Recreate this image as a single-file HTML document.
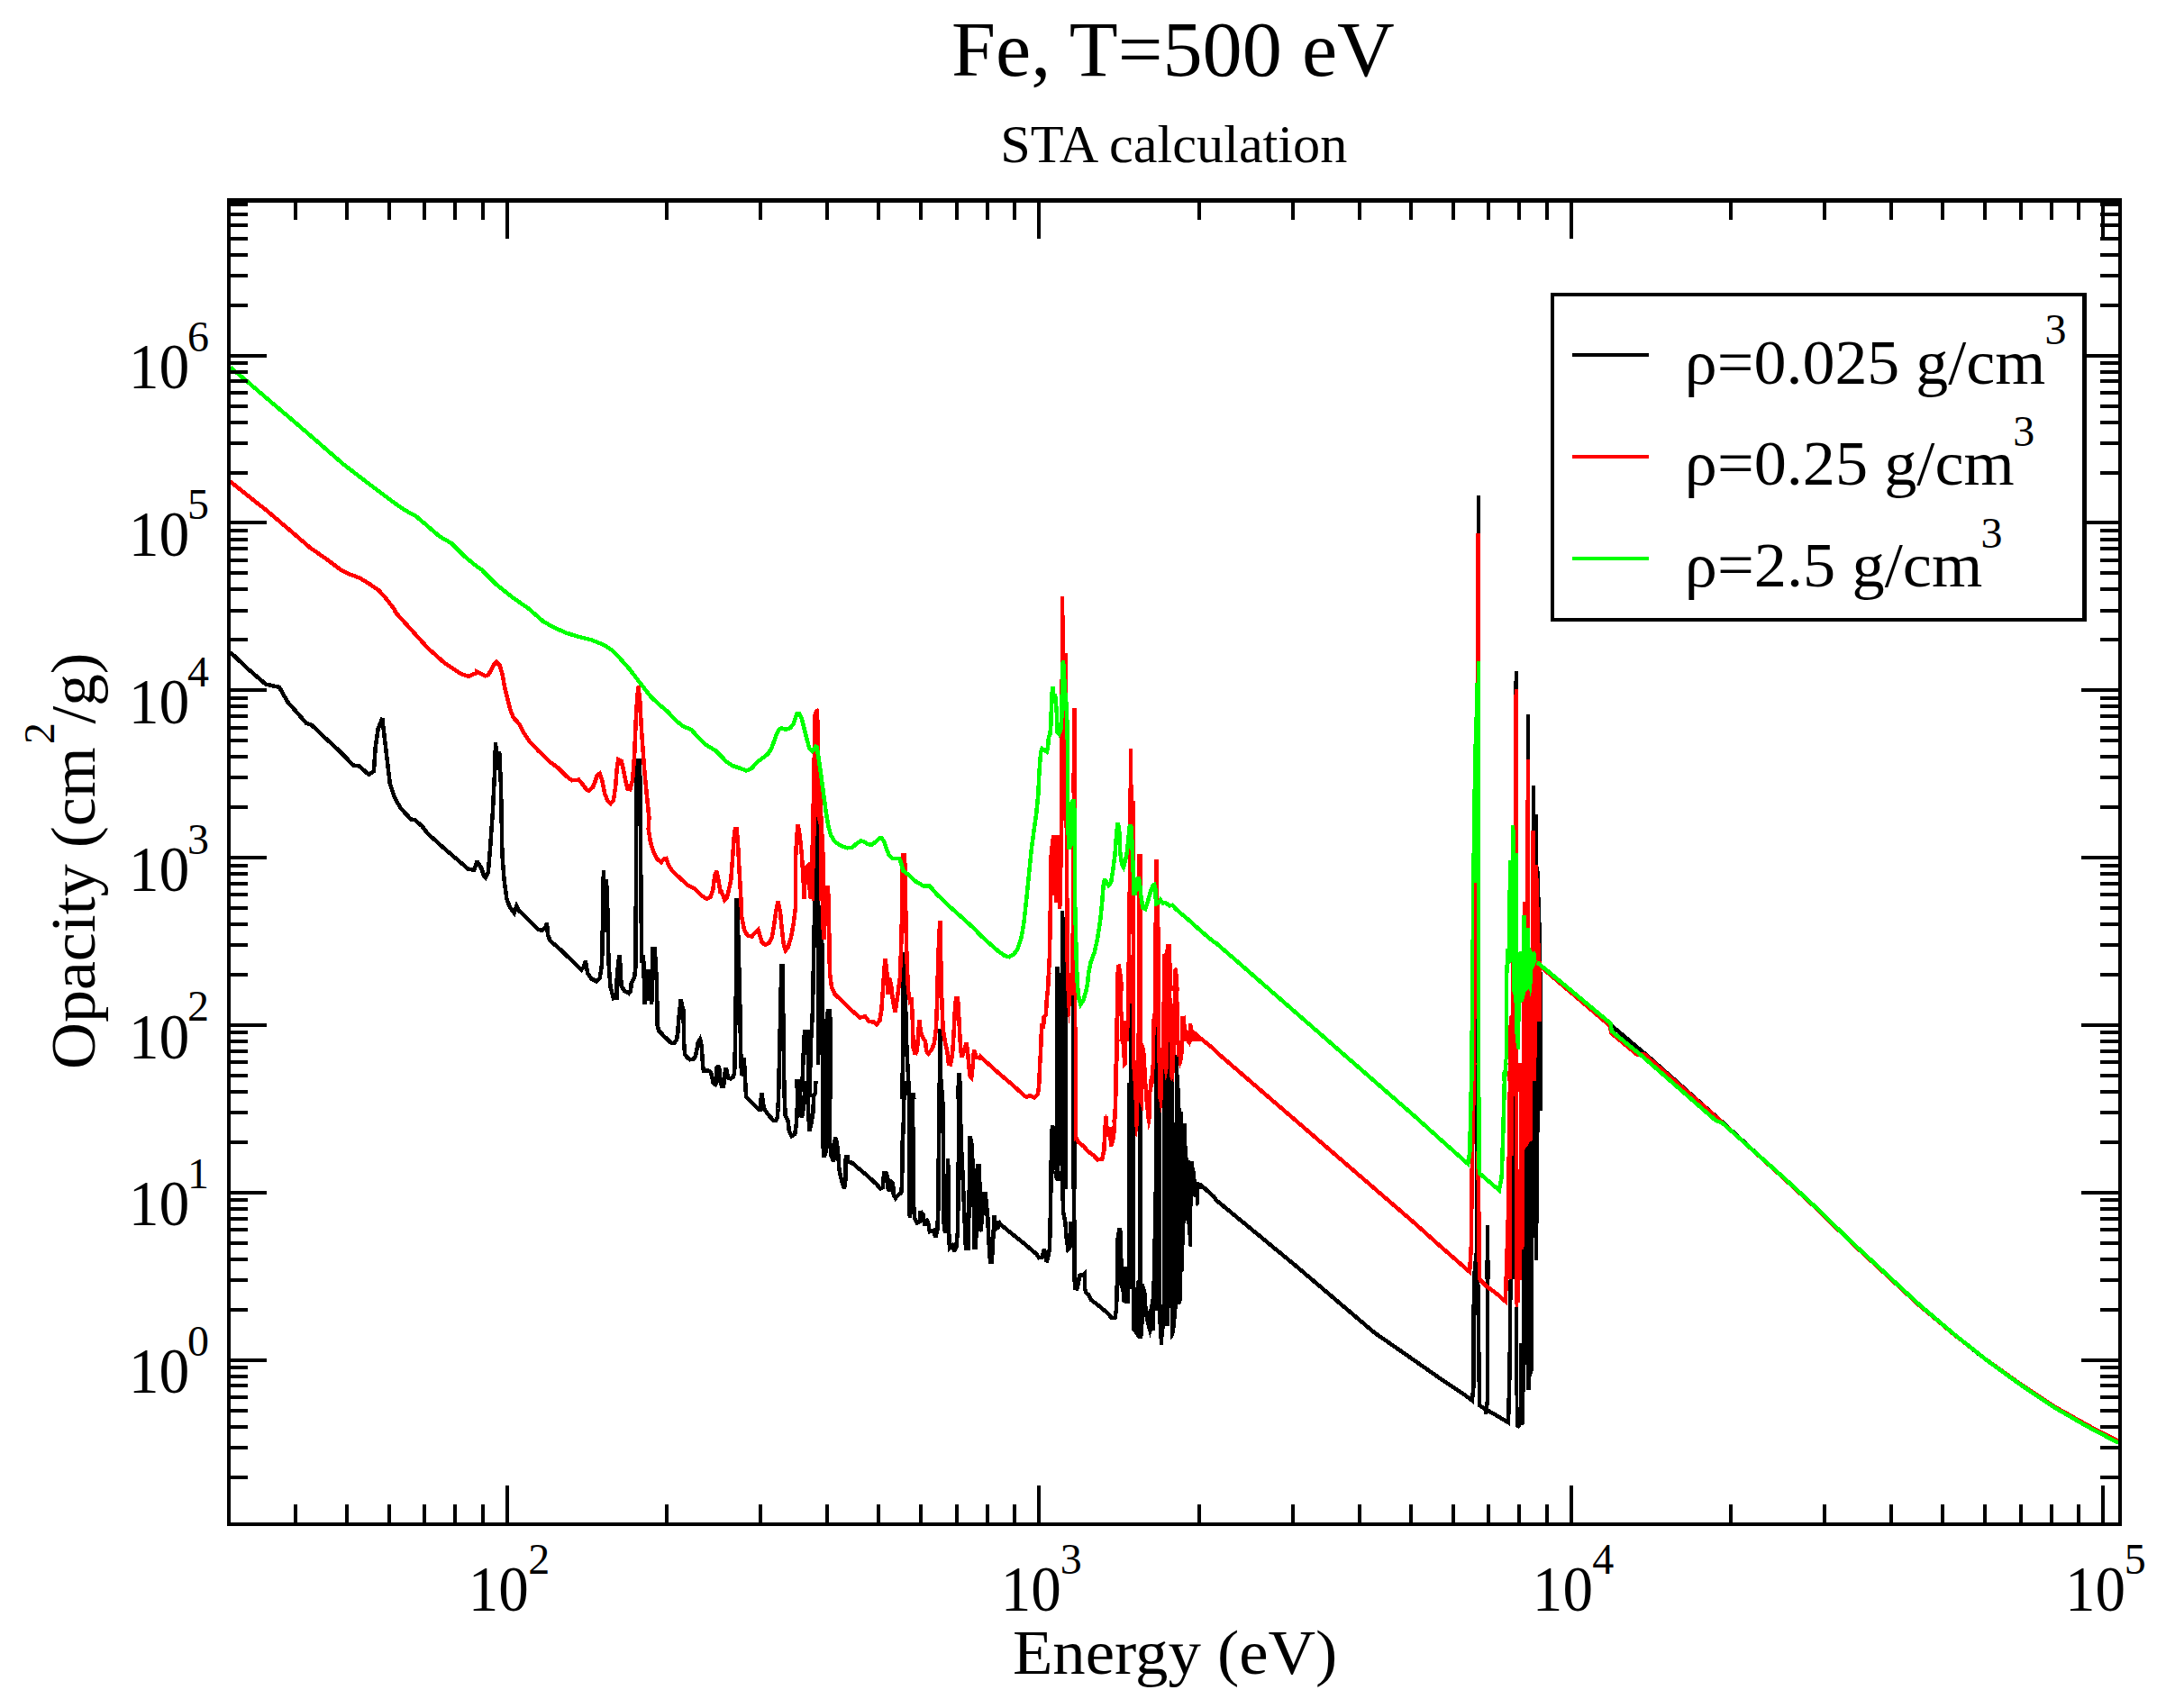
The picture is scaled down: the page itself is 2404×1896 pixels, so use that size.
<!DOCTYPE html>
<html><head><meta charset="utf-8"><title>Fe, T=500 eV</title>
<style>html,body{margin:0;padding:0;background:#fff}svg{display:block}text{font-family:"Liberation Serif",serif;fill:#000}</style></head><body>
<svg width="2404" height="1896" viewBox="0 0 2404 1896">
<rect width="2404" height="1896" fill="#fff"/>
<defs><clipPath id="cp"><rect x="254.0" y="222.0" width="2099.0" height="1470.0"/></clipPath></defs>
<g clip-path="url(#cp)" fill="none" stroke-width="4.5" stroke-linejoin="miter" stroke-miterlimit="2.5" shape-rendering="crispEdges">
<path d="M255.6 724.0 L274.4 741.8 L295.0 759.6 L310.0 762.8 L319.3 779.3 L339.9 802.7 L345.6 804.6 L362.4 820.5 L373.7 830.8 L392.4 849.6 L398.9 850.5 L409.3 859.9 L414.9 856.1 L416.7 829.9 L419.6 809.3 L424.2 797.1 L427.0 820.5 L432.7 869.2 L438.3 886.1 L444.8 897.3 L456.1 909.5 L460.8 910.4 L468.3 917.0 L474.8 925.4 L493.6 942.3 L519.8 964.8 L526.3 965.7 L529.2 957.3 L530.0 957.2 L534.2 963.6 L537.0 972.0 L539.1 974.1 L541.9 967.8 L544.1 941.1 L546.9 900.8 L549.0 858.6 L550.0 824.2 L552.2 854.4 L554.2 834.0 L556.0 872.7 L557.4 948.1 L559.5 976.2 L562.3 997.3 L565.8 1007.1 L570.7 1013.4 L573.3 1005.7 L576.4 1011.3 L586.2 1020.5 L597.4 1031.7 L601.7 1033.1 L605.2 1029.6 L607.0 1024.7 L608.0 1038.0 L610.8 1044.4 L621.3 1053.5 L639.6 1071.0 L645.2 1076.7 L648.0 1073.2 L649.9 1066.8 L652.2 1080.2 L656.5 1086.5 L662.1 1089.3 L665.6 1085.8 L667.7 1073.2 L668.4 1057.7 L669.2 1004.3 L669.9 966.4 L671.1 1035.2 L673.0 976.2 L674.7 1018.4 L675.4 1067.5 L677.5 1095.6 L681.0 1108.3 L684.6 1107.6 L684.6 1088.6 L686.0 1071.7 L687.4 1060.5 L688.8 1074.6 L689.5 1094.2 L693.0 1099.9 L697.9 1102.7 L700.0 1099.9 L700.7 1091.4 L704.2 1084.4 L705.6 1071.7 L705.9 955.1 L706.8 844.6 L710.1 844.6 L711.3 976.2 L712.2 1068.9 L714.1 1060.5 L715.5 1115.3 L717.2 1076.0 L719.0 1111.1 L721.1 1076.0 L723.2 1114.6 L724.6 1052.8 L726.7 1052.8 L728.8 1088.6 L729.5 1123.7 L729.3 1136.8 L731.2 1144.3 L736.8 1150.0 L742.5 1155.6 L745.3 1157.9 L748.1 1157.9 L750.9 1154.6 L752.3 1146.2 L753.2 1132.2 L754.2 1122.8 L755.1 1115.3 L755.8 1109.2 L757.0 1116.2 L758.4 1120.9 L758.9 1140.6 L759.3 1161.2 L760.3 1170.6 L763.1 1174.3 L765.9 1176.2 L769.6 1175.7 L772.0 1172.4 L773.4 1164.9 L774.8 1157.4 L776.9 1153.7 L778.1 1157.4 L779.0 1164.9 L779.5 1174.3 L780.1 1183.7 L780.9 1188.4 L787.4 1188.8 L789.3 1191.2 L790.7 1197.7 L791.6 1202.4 L794.0 1203.8 L795.4 1201.5 L795.7 1184.6 L796.3 1184.0 L797.7 1184.0 L798.2 1184.6 L798.7 1193.0 L800.1 1200.5 L801.0 1206.2 L802.9 1206.2 L803.8 1200.5 L804.3 1192.1 L805.7 1185.1 L807.1 1191.2 L808.5 1196.8 L810.8 1197.3 L813.7 1195.4 L815.1 1191.2 L815.5 1181.8 L816.0 1155.6 L817.4 1064.3 L817.7 999.0 L818.5 999.0 L819.8 1064.3 L821.0 1090.0 L821.4 1127.5 L822.1 1164.9 L823.0 1194.4 L824.1 1179.0 L825.4 1174.3 L826.8 1188.4 L827.5 1209.0 L828.2 1217.4 L834.3 1224.0 L839.9 1229.6 L842.2 1231.9 L844.1 1231.5 L844.8 1218.3 L845.5 1213.7 L846.6 1221.1 L847.8 1230.5 L851.1 1235.2 L854.9 1239.9 L858.6 1244.1 L861.4 1243.6 L862.8 1239.9 L863.5 1230.5 L864.2 1211.8 L865.2 1167.8 L866.6 1105.1 L867.2 1072.0 L868.8 1072.0 L869.1 1106.5 L869.1 1110.6 L870.0 1187.4 L870.8 1221.1 L871.7 1237.9 L874.5 1243.6 L875.9 1256.2 L878.7 1261.1 L882.2 1259.0 L884.0 1246.4 L884.7 1232.3 L885.4 1214.1 L884.0 1200.6 L887.8 1200.6 L888.8 1211.8 L890.6 1199.2 L892.0 1162.7 L893.0 1145.1 L895.5 1145.1 L896.5 1162.7 L897.5 1196.4 L898.4 1217.5 L900.0 1157.0 L901.9 1123.3 L903.3 1050.3 L904.7 980.0 L904.0 1000.0 L905.4 942.7 L906.4 906.8 L907.5 916.0 L908.3 914.6 L908.6 1000.0 L907.5 980.0 L907.9 1078.4 L908.2 1182.3 L908.9 1078.4 L909.6 1005.3 L911.3 1022.2 L912.4 1050.3 L912.7 1120.5 L913.1 1185.1 L914.1 1220.0 M1065.3 1200.0 L1066.7 1268.8 L1068.4 1301.2 L1069.8 1334.9 L1071.9 1385.5 L1074.7 1385.5 L1075.7 1326.5 L1076.5 1261.1 L1078.5 1270.3 L1079.9 1298.4 L1081.7 1384.8 L1083.1 1384.8 L1084.5 1298.4 L1085.2 1294.1 L1086.6 1294.1 L1087.8 1326.5 L1088.7 1367.2 L1090.6 1340.5 L1092.0 1325.3 L1093.7 1325.3 L1094.8 1336.5 L1096.2 1349.2 L1097.1 1370.3 L1098.3 1391.3 L1099.1 1400.5 L1100.8 1400.5 L1101.4 1391.3 L1102.5 1370.3 L1103.6 1349.2 L1104.6 1364.6 L1108.1 1362.5 L1108.1 1355.5 L1110.2 1359.0 L1122.2 1368.8 L1136.2 1380.1 L1150.3 1392.0 L1153.1 1396.2 L1156.6 1395.5 L1158.7 1387.1 L1160.8 1392.7 L1161.8 1401.2 L1163.6 1392.7 L1165.0 1385.7 L1165.7 1356.2 L1166.4 1316.9 L1167.1 1300.0 M1330.8 1314.1 L1332.9 1315.5 L1347.0 1328.1 L1350.0 1332.4 L1437.8 1404.8 L1525.6 1479.5 L1570.0 1510.3 L1598.1 1530.0 L1626.2 1548.9 L1633.9 1554.6 L1635.3 1540.5 L1635.8 1442.2 L1636.3 1419.7 L1637.4 1400.0 M1710.6 1072.8 L1788.4 1138.4 L1828.6 1172.1 L1911.1 1245.2 L1980.0 1308.2 L2017.5 1342.9 L2054.9 1379.4 L2092.4 1414.1 L2129.9 1448.8 L2167.4 1480.2 L2204.8 1509.8 L2242.3 1536.4 L2279.8 1561.5 L2317.2 1582.9 L2351.0 1600.1 M916.3 1220.0 L916.9 1185.1 L917.7 1131.7 L918.9 1122.2 L920.8 1122.2 L921.4 1131.7 L921.7 1220.0 M1001.6 1220.0 L1002.3 1099.4 L1003.5 1057.3 L1004.0 1092.4 L1005.4 1126.1 L1006.5 1168.3 L1008.0 1193.6 L1008.9 1220.0 M1012.2 1220.0 L1012.7 1214.9 L1013.9 1214.9 L1014.3 1220.0 M1042.8 1220.0 L1043.1 1141.9 L1043.9 1162.7 L1044.5 1220.0 M1063.6 1220.0 L1063.9 1193.0 L1065.0 1193.0 L1065.3 1220.0 M887.8 1200.0 L888.8 1235.1 L889.9 1240.7 L892.0 1228.1 L893.4 1214.1 L894.4 1200.0 M896.2 1200.0 L897.2 1235.1 L898.4 1255.5 L900.5 1246.4 L902.3 1235.1 L903.3 1215.5 L904.7 1214.1 L905.4 1200.0 M913.5 1200.0 L913.7 1273.1 L914.1 1284.3 L916.3 1280.1 L917.5 1267.4 L918.3 1200.0 M920.8 1200.0 L921.1 1267.4 L922.5 1282.9 L925.1 1289.2 L926.2 1278.7 L926.9 1262.5 L928.6 1267.4 L930.0 1277.3 L931.4 1298.4 L934.2 1311.0 L937.0 1319.4 L938.4 1309.6 L938.8 1284.3 L940.5 1284.3 L941.2 1289.9 L945.4 1290.6 L954.6 1298.4 L963.0 1305.4 L972.8 1314.5 L977.0 1319.4 L979.9 1318.0 L980.6 1308.2 L981.3 1301.9 L983.4 1301.9 L984.3 1304.7 L985.5 1319.4 L986.9 1322.2 L987.9 1311.0 L991.1 1313.8 L991.8 1326.5 L993.9 1330.0 L996.7 1326.5 L1000.2 1324.4 L1001.2 1312.4 L1001.5 1270.3 L1002.6 1253.4 L1003.7 1200.0 M1008.9 1200.0 L1009.2 1347.5 L1010.2 1351.7 L1011.5 1284.3 L1012.9 1215.5 L1013.6 1284.3 L1013.9 1334.9 L1015.0 1351.7 L1017.8 1357.4 L1020.6 1356.0 L1021.7 1344.7 L1024.8 1348.9 L1026.2 1360.2 L1028.3 1353.2 L1030.4 1358.8 L1031.8 1367.2 L1036.1 1365.8 L1038.2 1373.5 L1040.3 1365.8 L1041.4 1340.5 L1042.2 1225.3 L1042.8 1200.0 M1044.5 1200.0 L1046.6 1228.1 L1047.3 1354.6 L1049.0 1368.6 L1050.8 1340.5 L1052.2 1285.7 L1052.9 1361.6 L1053.9 1385.5 L1057.1 1382.7 L1059.2 1389.0 L1061.3 1384.1 L1062.8 1368.6 L1063.6 1326.5 L1064.2 1200.0 M1173.4 1100.0 L1173.6 1075.5 L1173.9 1075.5 L1174.0 1100.0 M1179.2 1100.0 L1179.2 1011.5 L1179.5 1044.1 L1180.6 1046.9 L1180.9 1100.0 M1079.3 1320.0 L1080.3 1297.8 L1081.4 1320.0 M1085.6 1320.0 L1085.9 1294.3 L1086.5 1294.3 L1087.0 1320.0 M1171.3 1300.0 L1172.7 1307.0 L1174.4 1310.1 L1175.8 1305.6 L1176.7 1300.0 M1179.1 1300.0 L1180.0 1345.0 L1182.3 1356.2 L1183.7 1374.5 L1185.4 1386.8 L1187.5 1384.3 L1188.5 1375.9 L1188.2 1356.2 L1190.3 1373.1 M1191.8 1300.0 L1192.4 1370.3 L1192.8 1430.0 L1195.2 1430.4 L1196.9 1425.1 L1198.0 1415.9 L1202.2 1414.9 L1203.6 1413.8 L1204.2 1430.7 L1205.8 1435.6 L1207.9 1437.0 L1210.7 1442.6 L1220.5 1450.3 L1228.9 1457.4 L1233.9 1463.0 L1237.4 1463.0 L1238.8 1454.6 L1239.5 1440.5 L1240.2 1405.4 L1240.5 1375.9 L1241.6 1368.8 L1242.6 1363.9 L1243.8 1368.8 L1244.4 1405.4 L1244.7 1426.5 L1246.5 1431.4 L1247.9 1446.1 M1639.8 1400.0 L1640.5 1439.3 L1641.4 1512.4 L1642.2 1560.2 L1648.7 1564.4 L1661.3 1571.4 L1674.0 1579.1 L1675.1 1540.5 L1675.7 1509.6 L1676.4 1428.1 L1677.9 1400.0 M1651.1 1400.0 L1650.9 1554.6 L1649.1 1570.0" stroke="#000"/>
<path d="M1164.0 1320.0 L1165.0 1258.4 L1166.0 1248.6 L1169.9 1248.6 L1171.3 1252.8 L1171.3 1080.0 L1184.7 1080.0 L1184.7 1320.0 L1178.4 1320.0 L1177.0 1288.0 L1175.5 1307.6 L1173.4 1310.4 L1171.3 1304.8 L1169.9 1295.0 L1168.5 1320.0Z M1189.3 1094.1 L1194.5 1094.1 L1194.5 1320.0 L1189.3 1320.0Z M1253.5 1114.4 L1256.3 1114.4 L1256.3 1202.2 L1259.9 1202.2 L1259.9 1320.0 L1251.1 1320.0 L1251.1 1202.2 L1253.5 1202.2Z M1263.4 1220.5 L1267.6 1220.5 L1267.6 1320.0 L1263.4 1320.0Z M1282.3 1140.4 L1284.4 1140.4 L1284.4 1186.8 L1288.7 1234.6 L1288.7 1320.0 L1280.9 1320.0 L1280.9 1186.8 L1282.3 1186.8Z M1290.3 1192.4 L1296.8 1192.4 L1296.8 1157.3 L1298.2 1157.3 L1298.2 1192.4 L1303.4 1195.2 L1304.1 1171.3 L1307.6 1171.3 L1307.9 1192.4 L1309.7 1209.3 L1310.7 1234.6 L1313.5 1246.5 L1317.0 1247.2 L1317.7 1280.9 L1319.1 1288.0 L1321.4 1288.7 L1325.2 1288.7 L1325.6 1297.8 L1327.6 1311.8 L1329.7 1313.2 L1331.8 1316.1 L1337.8 1320.0 L1290.3 1320.0Z M1080.0 1300.0 L1087.7 1300.0 L1088.7 1323.9 L1094.1 1324.2 L1095.2 1346.4 L1093.3 1350.6 L1091.9 1347.8 L1090.5 1363.2 L1088.4 1368.1 L1086.3 1353.4 L1085.3 1370.3 L1084.5 1385.0 L1080.0 1385.7Z M1251.1 1300.0 L1259.9 1300.0 L1259.9 1433.5 L1261.3 1422.2 L1262.7 1420.8 L1262.7 1300.0 L1268.3 1300.0 L1268.3 1425.1 L1269.7 1425.1 L1272.5 1434.9 L1273.9 1456.0 L1275.3 1454.6 L1278.1 1439.1 L1278.8 1409.6 L1280.2 1342.2 L1280.9 1300.0 L1289.1 1300.0 L1289.1 1447.5 L1290.1 1447.5 L1290.1 1300.0 L1327.3 1300.0 L1327.6 1312.6 L1330.8 1311.9 L1331.2 1321.1 L1330.8 1337.2 L1327.6 1339.3 L1326.6 1329.5 L1324.5 1328.1 L1323.4 1340.0 L1323.1 1383.6 L1319.6 1383.6 L1317.5 1359.0 L1316.1 1352.7 L1314.9 1364.6 L1313.9 1411.0 L1312.5 1411.7 L1311.8 1443.3 L1310.4 1447.5 L1306.9 1447.5 L1306.2 1457.4 L1304.1 1478.4 L1302.0 1484.1 L1299.2 1486.9 L1298.5 1451.7 L1297.8 1472.1 L1293.6 1472.1 L1292.2 1475.6 L1290.8 1492.5 L1287.3 1493.2 L1285.8 1479.9 L1285.1 1454.6 L1282.3 1454.6 L1281.6 1477.0 L1278.1 1477.7 L1276.7 1485.5 L1273.2 1474.2 L1270.4 1461.6 L1269.0 1474.2 L1268.3 1486.2 L1262.7 1485.5 L1259.9 1481.3 L1256.3 1476.3 L1256.3 1431.4 L1254.2 1431.4 L1253.5 1447.5 L1247.9 1446.8 L1245.8 1430.7 L1243.7 1426.5 L1243.0 1406.8 L1251.1 1406.1Z M1639.0 549.9 L1643.1 549.9 L1643.1 760.0 L1639.0 760.0Z M1681.0 745.1 L1684.9 745.1 L1684.9 760.0 L1681.0 760.0Z M1639.0 740.0 L1643.1 740.0 L1643.1 980.0 L1639.0 980.0Z M1681.0 744.9 L1684.9 744.9 L1684.9 980.0 L1680.0 980.0 L1680.0 756.2 L1681.0 756.2Z M1693.9 793.0 L1697.9 793.0 L1697.9 980.0 L1693.9 980.0Z M1700.0 872.1 L1703.9 872.1 L1703.9 903.7 L1707.0 903.7 L1707.0 970.4 L1709.1 970.4 L1709.1 980.0 L1700.0 980.0Z M1638.1 1100.5 L1639.1 1100.5 L1639.1 1200.0 L1638.1 1200.0Z M1704.2 960.0 L1707.0 960.0 L1709.1 969.8 L1709.8 1013.4 L1710.9 1030.3 L1711.6 1086.5 L1711.6 1200.0 L1701.4 1200.0 L1701.4 960.0Z M1637.2 1180.0 L1639.1 1180.0 L1639.1 1390.8 L1639.6 1390.8 L1639.8 1420.0 L1634.4 1420.0 L1636.0 1390.8 L1637.2 1390.8Z M1649.0 1359.9 L1652.9 1359.9 L1652.9 1399.2 L1653.9 1399.2 L1654.3 1420.0 L1648.0 1420.0 L1648.0 1399.2 L1649.0 1399.2Z M1701.4 1180.0 L1711.9 1180.0 L1711.9 1233.4 L1709.1 1233.4 L1709.1 1257.3 L1708.0 1257.3 L1708.0 1358.4 L1707.0 1358.4 L1707.0 1399.2 L1703.2 1399.2 L1703.2 1373.9 L1702.1 1373.9 L1702.1 1420.0 L1689.2 1420.0 L1689.2 1180.0Z M1689.2 1400.0 L1702.1 1400.0 L1702.1 1522.2 L1701.4 1522.2 L1699.3 1528.6 L1698.6 1542.6 L1694.4 1542.6 L1693.9 1515.2 L1692.9 1515.2 L1692.5 1546.1 L1691.7 1581.3 L1688.7 1582.0 L1685.9 1586.2 L1681.7 1584.1 L1681.0 1450.6 L1684.9 1450.6 L1685.2 1561.6 L1686.3 1561.6 L1686.3 1491.3 L1689.2 1491.3Z" fill="#000" stroke="none"/>
<path d="M255.6 534.6 L274.4 549.6 L296.8 567.4 L324.9 591.3 L343.7 607.6 L362.4 620.7 L377.4 632.0 L388.6 637.6 L399.9 641.9 L411.1 648.9 L420.5 655.4 L428.0 663.8 L437.4 676.0 L439.2 680.0 L456.1 698.7 L474.8 719.3 L493.6 736.2 L512.3 748.4 L519.8 750.8 L525.4 748.4 L530.1 746.9 L530.0 746.2 L534.2 748.3 L538.4 750.4 L541.9 749.0 L545.5 743.4 L548.3 737.8 L551.1 735.0 L554.6 738.5 L557.4 747.6 L560.2 763.1 L563.7 777.1 L566.5 788.4 L570.0 796.8 L576.4 803.8 L580.6 812.2 L587.6 822.8 L597.4 833.3 L611.5 846.7 L618.5 851.6 L628.4 861.4 L634.7 866.3 L642.4 865.6 L646.6 870.6 L650.8 876.2 L653.6 877.6 L657.9 874.1 L660.7 867.0 L662.8 860.7 L665.6 858.6 L668.4 867.0 L671.2 881.1 L674.7 889.5 L677.5 892.3 L681.0 888.1 L683.2 872.7 L684.6 854.4 L686.2 843.2 L689.5 844.6 L691.6 853.0 L694.4 867.0 L696.5 875.5 L699.3 876.2 L702.1 865.6 L704.2 837.5 L705.6 802.4 L706.8 781.3 L708.4 761.7 L710.6 781.3 L711.5 802.4 L713.4 830.5 L715.5 858.6 L718.3 886.7 L720.4 907.8 L719.7 920.0 L721.8 934.1 L725.3 946.0 L729.5 953.7 L733.7 957.2 L736.5 953.7 L739.4 953.0 L742.2 960.7 L746.4 967.1 L754.8 974.8 L763.2 982.5 L770.3 986.0 L777.3 993.1 L784.3 998.0 L788.5 995.9 L791.3 987.4 L793.5 970.6 L795.6 967.1 L797.7 979.0 L799.8 991.7 L800.0 987.6 L804.2 998.9 L807.0 996.1 L811.2 977.8 L813.3 949.7 L814.8 928.6 L815.9 920.2 L817.6 920.2 L819.0 935.6 L820.4 963.7 L821.8 987.6 L822.5 1000.0 L823.2 1017.9 L826.0 1032.0 L829.5 1038.3 L834.4 1039.7 L837.9 1035.5 L841.5 1032.0 L843.6 1039.0 L845.7 1046.0 L849.2 1048.8 L853.4 1046.7 L856.9 1040.4 L859.0 1027.8 L861.1 1012.3 L863.5 1000.4 L866.0 1012.3 L867.4 1027.8 L869.6 1047.4 L871.9 1055.2 L874.5 1051.7 L878.0 1040.4 L880.8 1025.0 L882.9 1008.1 L882.9 956.7 L884.3 928.6 L885.7 915.3 L887.8 928.6 L889.9 949.7 L891.3 970.8 L892.7 997.5 L893.9 963.7 L897.0 960.9 L898.4 984.8 L899.8 997.5 L900.5 963.7 L901.9 935.6 L902.6 900.5 L903.7 844.3 L904.7 793.7 L907.1 787.4 L907.5 816.2 L908.9 858.4 L911.0 900.5 L912.4 928.6 L913.8 956.7 L913.1 1022.2 L914.5 1043.2 L915.9 1015.1 L917.0 984.9 L918.7 984.9 L919.4 994.1 L920.1 1022.2 L920.6 1064.3 L921.1 1081.2 L922.9 1095.2 L926.5 1103.6 L934.9 1111.4 L944.7 1121.2 L954.6 1129.6 L960.2 1128.2 L964.4 1133.9 L970.0 1134.6 L972.8 1137.4 L976.3 1133.2 L978.4 1120.5 L979.9 1099.4 L981.3 1078.4 L982.4 1064.3 L984.1 1075.5 L985.5 1103.6 L986.9 1085.4 L989.0 1092.4 L991.1 1112.1 L993.6 1123.3 L996.0 1106.5 L998.8 1085.4 L1000.2 1050.3 L1001.2 1008.1 L1001.2 970.8 L1002.1 949.7 L1003.7 949.7 L1004.7 963.7 L1005.4 1022.2 L1006.5 1064.3 L1008.0 1099.4 L1010.1 1112.1 L1011.9 1110.7 L1012.9 1134.6 L1013.6 1162.7 L1015.7 1170.4 L1017.8 1166.9 L1019.2 1148.6 L1020.3 1132.5 L1022.0 1145.8 L1024.8 1152.8 L1026.9 1155.6 L1028.3 1166.9 L1030.4 1169.7 L1033.9 1165.5 L1036.8 1158.4 L1038.9 1141.6 L1040.3 1106.5 L1041.0 1071.3 L1042.4 1036.2 L1043.4 1022.2 L1044.2 1064.3 L1045.2 1106.5 L1046.6 1141.6 L1048.7 1155.6 L1051.5 1168.3 L1052.9 1180.9 L1055.0 1181.6 L1057.1 1169.7 L1058.5 1148.6 L1059.9 1120.5 L1061.1 1107.9 L1062.8 1107.9 L1063.5 1113.5 L1064.9 1141.6 L1066.3 1166.9 L1067.7 1173.2 L1069.8 1166.9 L1072.6 1157.7 L1074.0 1166.9 L1075.4 1183.7 L1076.8 1195.0 L1078.2 1196.4 L1079.6 1183.7 L1081.0 1165.5 L1083.8 1173.9 L1088.0 1174.6 L1088.4 1172.7 L1094.1 1178.4 L1108.1 1191.0 L1122.2 1202.9 L1136.2 1215.6 L1139.0 1217.7 L1143.2 1216.0 L1148.1 1218.4 L1151.7 1214.9 L1153.1 1206.5 L1154.2 1181.2 L1155.2 1164.3 L1156.2 1136.2 L1158.0 1141.8 L1158.7 1129.2 L1160.8 1126.4 L1161.9 1108.1 L1162.9 1098.3 L1164.3 1080.0 L1162.9 1100.0 L1165.0 1059.5 L1166.0 996.3 L1166.8 947.1 L1168.5 933.1 L1169.4 927.2 L1169.9 993.5 L1171.3 927.2 L1172.7 1001.9 L1174.4 927.2 L1176.2 1008.9 L1178.1 927.2 L1178.8 860.0 L1178.6 880.0 L1178.9 661.8 L1180.0 724.3 L1181.4 780.5 L1183.0 725.0 L1183.7 880.0 L1183.4 860.0 L1184.0 958.4 L1184.7 1063.7 L1185.4 1100.0 M1194.1 1262.7 L1196.6 1267.6 L1203.6 1273.2 L1206.5 1277.4 L1213.5 1282.3 L1218.4 1287.3 L1223.3 1286.5 L1225.4 1276.7 L1226.1 1259.9 L1227.3 1239.5 L1228.7 1255.6 L1230.3 1261.3 L1231.7 1251.4 L1233.2 1272.5 L1234.6 1266.9 L1236.0 1262.7 L1237.7 1234.6 L1239.1 1164.3 L1240.2 1108.1 L1240.2 1084.8 L1241.6 1070.8 L1243.0 1079.2 L1244.4 1091.8 L1245.2 1100.0 M1323.1 1144.6 L1332.9 1153.1 L1347.0 1164.3 L1350.0 1167.8 L1570.0 1357.7 L1598.1 1383.0 L1631.1 1411.8 L1632.8 1383.7 L1633.9 1285.4 L1634.9 1243.2 L1636.3 1180.0 M1640.3 1278.4 L1641.4 1354.2 L1641.9 1419.7 L1650.1 1428.1 L1659.9 1435.1 L1670.9 1444.7 L1671.4 1428.1 L1672.3 1400.0 M1705.9 1069.6 L1786.5 1138.4 L1788.4 1146.8 L1817.4 1171.1 L1824.9 1170.2 L1905.5 1240.5 L1913.0 1247.6 L1980.0 1308.2 L2017.5 1342.9 L2054.9 1379.4 L2092.4 1414.1 L2129.9 1448.8 L2167.4 1480.2 L2204.8 1509.6 L2242.3 1536.3 L2279.8 1561.2 L2317.2 1582.3 L2351.0 1599.8 M1191.7 880.0 L1192.0 787.8 L1192.8 787.8 L1193.1 880.0 M1254.9 880.0 L1255.1 831.4 M1191.0 1100.0 L1190.6 1066.5 L1191.3 944.3 L1192.0 860.0 M1193.0 860.0 L1193.2 916.2 M1252.1 1100.0 L1253.1 1052.5 L1253.9 978.0 L1254.9 860.0 L1255.9 890.9 L1257.9 891.2 L1258.2 1100.0 M1264.2 1100.0 L1264.6 950.6 L1265.3 950.6 L1265.6 1100.0 M1282.3 1100.0 L1283.2 955.8 L1284.0 955.8 L1284.4 1028.6 L1286.0 1030.7 L1286.1 1100.0 M1292.2 1100.0 L1292.3 1060.9 L1295.0 1058.4 L1296.4 1050.0 L1297.8 1050.0 L1298.2 1053.9 L1298.4 1100.0 M1303.4 1100.0 L1304.0 1090.4 L1304.8 1074.7 L1305.9 1090.4 L1306.5 1100.0" stroke="#f00"/>
<path d="M901.4 1000.0 L902.3 900.5 L903.0 844.3 L903.7 793.0 L907.5 786.0 L908.9 788.1 L909.6 830.3 L911.0 872.4 L912.4 900.5 L913.8 935.6 L914.5 956.7 L914.9 984.8 L914.9 1000.0Z M1183.3 1080.0 L1194.9 1080.0 L1195.9 1178.4 L1195.9 1265.5 L1192.4 1266.9 L1192.1 1104.6 L1189.3 1104.6 L1188.2 1122.2 L1186.4 1136.9 L1184.7 1122.2 L1183.7 1103.9Z M1638.1 591.9 L1643.1 591.9 L1643.1 760.0 L1638.1 760.0Z M1638.1 740.0 L1643.1 740.0 L1643.1 980.0 L1638.1 980.0Z M1680.0 777.9 L1681.0 765.0 L1684.9 765.0 L1684.9 980.0 L1680.0 980.0Z M1693.9 843.0 L1697.9 843.0 L1697.9 980.0 L1693.1 980.0 L1693.1 887.5 L1693.9 887.5Z M1699.0 922.0 L1703.9 922.0 L1703.9 980.0 L1699.0 980.0Z M1636.0 960.0 L1639.1 960.0 L1639.1 1131.4 L1638.1 1131.4 L1638.1 1200.0 L1635.3 1200.0Z M1693.1 960.0 L1697.9 960.0 L1697.9 1058.4 L1690.1 1058.4 L1690.1 1000.7 L1693.1 1000.7Z M1699.0 960.0 L1707.0 960.0 L1708.4 1002.2 L1709.8 1058.4 L1710.5 1066.8 L1710.5 1134.2 L1706.0 1134.2 L1706.0 1173.6 L1704.9 1173.6 L1704.9 1200.0 L1689.2 1200.0 L1689.2 1100.5 L1699.0 1058.4Z M1677.1 1068.2 L1681.0 1068.2 L1684.9 1113.2 L1684.9 1200.0 L1673.3 1200.0 L1674.7 1128.6 L1676.8 1127.2Z M1674.0 1180.0 L1704.9 1180.0 L1701.4 1198.3 L1701.4 1265.7 L1697.9 1267.8 L1695.8 1271.3 L1692.2 1276.2 L1691.5 1386.5 L1689.2 1387.3 L1689.2 1420.0 L1670.0 1420.0 L1670.5 1386.5 L1671.4 1362.7 L1672.6 1278.4 L1673.3 1225.0Z M1681.0 1400.0 L1688.7 1400.0 L1688.7 1421.1 L1687.3 1421.1 L1687.3 1446.4 L1684.9 1446.4 L1684.9 1450.6 L1681.7 1450.6 L1681.0 1439.3Z M1238.0 1156.0 L1238.0 1110.6 L1239.1 1110.6 L1239.1 1084.2 L1240.2 1084.2 L1240.2 1078.0 L1241.2 1078.0 L1241.2 1071.0 L1242.4 1070.1 L1243.0 1070.1 L1243.0 1080.0 L1244.0 1080.0 L1244.0 1085.0 L1245.0 1085.0 L1245.0 1099.9 L1246.1 1099.9 L1246.1 1123.0 L1246.9 1123.0 L1246.9 1132.8 L1250.0 1132.8 L1250.0 1092.0 L1251.1 1092.0 L1251.1 1060.0 L1259.9 1060.0 L1259.9 1156.0Z M1261.8 1060.0 L1268.0 1060.0 L1268.0 1156.0 L1261.0 1156.0 L1261.0 1146.8 L1261.8 1146.8Z M1281.2 1060.0 L1288.0 1060.0 L1288.0 1156.0 L1278.1 1156.0 L1278.1 1131.1 L1279.1 1131.1 L1279.1 1125.2 L1280.1 1125.2 L1280.1 1066.7 L1281.2 1066.7Z M1290.1 1060.0 L1300.0 1060.0 L1300.0 1107.8 L1301.2 1107.8 L1301.2 1114.0 L1302.0 1114.0 L1302.0 1090.1 L1303.1 1090.1 L1303.1 1081.1 L1304.1 1081.1 L1304.1 1074.1 L1305.9 1074.1 L1305.9 1083.0 L1307.0 1083.0 L1307.0 1096.0 L1308.1 1096.0 L1308.1 1112.0 L1309.0 1112.0 L1309.0 1155.0 L1310.2 1155.0 L1310.2 1128.0 L1314.9 1128.0 L1315.5 1126.9 L1316.1 1133.1 L1317.1 1143.2 L1318.6 1143.8 L1319.2 1136.0 L1323.1 1136.0 L1323.9 1139.3 L1324.2 1143.8 L1328.4 1147.1 L1337.4 1155.6 L1337.4 1156.0 L1289.1 1156.0 L1289.1 1112.0 L1290.1 1112.0Z M1238.0 1150.0 L1241.9 1150.0 L1241.9 1177.8 L1241.0 1177.8 L1241.0 1216.6 L1239.9 1216.6 L1239.9 1235.4 L1238.8 1235.4 L1238.8 1246.0 L1234.0 1246.0 L1234.0 1243.3 L1235.1 1243.3 L1235.1 1233.2 L1236.0 1233.2 L1236.0 1213.0 L1237.1 1213.0 L1237.1 1164.9 L1238.0 1164.9Z M1243.0 1150.0 L1252.0 1150.0 L1251.0 1151.7 L1251.0 1180.9 L1249.7 1182.6 L1246.1 1186.0 L1246.1 1174.2 L1245.1 1174.2 L1245.1 1159.0 L1244.1 1159.0 L1244.1 1152.8 L1243.0 1152.8Z M1255.9 1150.0 L1259.9 1150.0 L1259.9 1177.0 L1261.0 1177.0 L1261.0 1150.0 L1268.0 1150.0 L1268.0 1156.7 L1270.0 1161.2 L1271.1 1164.1 L1271.9 1174.2 L1273.1 1195.0 L1273.9 1210.1 L1275.0 1210.1 L1275.3 1198.9 L1276.2 1193.8 L1277.0 1193.8 L1277.3 1182.0 L1278.1 1182.0 L1278.1 1150.0 L1288.0 1150.0 L1288.0 1162.9 L1289.1 1162.9 L1289.1 1150.0 L1309.0 1150.0 L1309.0 1155.1 L1310.2 1155.1 L1310.2 1150.0 L1323.1 1150.0 L1323.1 1155.6 L1321.7 1158.4 L1320.6 1161.8 L1319.4 1159.6 L1317.2 1157.3 L1316.9 1154.2 L1314.4 1154.2 L1314.1 1169.7 L1313.0 1170.0 L1313.0 1177.0 L1312.1 1177.0 L1311.8 1180.9 L1310.7 1181.2 L1310.4 1184.9 L1309.3 1186.8 L1308.2 1180.9 L1307.9 1200.6 L1291.0 1200.6 L1291.0 1215.8 L1289.9 1227.0 L1288.8 1234.3 L1288.5 1234.9 L1286.8 1228.7 L1281.2 1228.7 L1280.6 1202.8 L1279.2 1207.9 L1278.1 1214.1 L1277.8 1239.9 L1277.0 1246.0 L1274.7 1255.1 L1273.3 1246.0 L1272.2 1239.9 L1271.1 1227.0 L1270.0 1220.0 L1270.0 1208.7 L1268.8 1208.7 L1268.8 1233.2 L1268.3 1233.2 L1267.7 1246.0 L1264.1 1246.0 L1261.0 1265.5 L1259.0 1246.0 L1255.9 1246.0Z M1225.8 1246.0 L1226.1 1242.2 L1227.2 1237.1 L1227.8 1237.1 L1228.1 1241.1 L1228.9 1242.2 L1228.9 1246.0Z" fill="#f00" stroke="none"/>
<path d="M255.6 407.7 L274.4 423.5 L296.8 442.8 L324.9 466.6 L353.0 490.9 L381.1 515.3 L409.3 537.0 L437.4 558.0 L448.6 565.9 L461.7 573.0 L474.8 584.2 L487.9 595.5 L501.1 603.0 L516.0 617.9 L527.3 627.3 L534.8 632.6 L549.8 647.9 L568.5 662.9 L587.2 676.0 L603.1 690.0 L614.3 696.3 L628.4 702.6 L642.4 706.9 L656.5 710.4 L670.5 716.0 L678.9 721.6 L687.4 730.0 L698.6 742.7 L709.9 757.4 L722.5 773.6 L732.3 782.7 L740.8 789.8 L749.2 798.9 L757.6 805.9 L767.5 810.1 L773.1 816.5 L782.9 826.3 L794.2 833.3 L802.6 841.7 L805.6 845.0 L812.6 849.9 L821.1 852.7 L828.1 855.5 L833.7 853.4 L840.7 845.7 L846.4 841.5 L852.0 837.3 L856.2 831.0 L859.0 823.2 L861.8 814.8 L864.6 809.9 L867.4 808.5 L872.4 809.9 L877.3 807.8 L880.8 803.6 L882.9 796.5 L884.3 792.3 L887.1 792.3 L889.9 797.9 L892.7 809.2 L895.5 820.4 L898.4 831.0 L901.2 833.8 L904.0 831.0 L906.1 827.4 L908.2 838.7 L911.0 858.4 L913.8 879.4 L916.6 900.5 L919.4 917.4 L922.2 927.2 L926.5 934.2 L933.5 939.1 L940.5 941.3 L946.1 940.6 L951.7 935.6 L955.3 933.5 L958.8 934.2 L963.0 937.0 L967.2 937.7 L971.4 934.9 L975.6 930.7 L978.4 930.0 L981.3 934.2 L984.1 942.7 L986.9 949.7 L991.1 953.2 L998.1 953.2 L1000.2 958.1 L1002.3 966.5 L1008.0 970.8 L1016.4 978.5 L1024.8 983.4 L1031.8 983.4 L1038.9 991.8 L1047.3 1000.0 L1052.9 1005.3 L1067.0 1017.9 L1081.0 1030.6 L1088.4 1038.4 L1096.9 1046.2 L1108.1 1056.0 L1115.1 1060.9 L1120.0 1062.3 L1125.0 1059.5 L1129.2 1053.9 L1133.4 1041.3 L1136.2 1025.8 L1139.0 1000.5 L1141.8 972.4 L1144.6 944.3 L1147.4 923.2 L1150.3 902.2 L1152.4 881.1 L1153.1 863.4 L1154.2 846.5 L1155.2 834.6 L1156.6 831.1 L1159.4 833.2 L1161.8 834.6 L1163.2 828.3 L1163.9 818.4 L1165.3 815.6 L1166.3 805.8 L1166.8 788.9 L1167.4 770.7 L1168.5 762.0 L1169.9 780.5 L1171.0 770.7 L1172.0 780.5 L1173.0 794.6 L1173.6 812.8 L1175.3 814.9 L1177.2 810.7 L1178.4 794.6 L1179.2 742.6 L1180.0 732.7 L1181.2 752.4 L1182.0 766.5 L1183.4 780.5 L1184.3 800.2 L1184.8 822.7 L1185.2 881.1 L1185.5 923.2 L1186.8 942.9 L1188.9 933.1 L1189.6 902.2 L1190.7 888.8 L1192.1 888.8 L1192.5 909.2 L1192.8 944.3 L1193.1 1000.5 L1193.8 1028.6 L1194.9 1070.8 L1195.9 1094.1 L1197.7 1109.5 L1199.4 1115.1 L1202.2 1110.9 L1205.1 1101.1 L1207.2 1091.2 L1207.9 1082.0 L1210.7 1068.0 L1214.9 1056.7 L1218.4 1039.9 L1221.2 1021.6 L1223.3 1000.5 L1224.7 982.2 L1226.1 975.9 L1228.2 979.4 L1230.3 982.9 L1233.2 979.4 L1235.3 965.4 L1237.4 949.9 L1238.8 930.3 L1240.2 916.2 L1240.9 913.1 L1242.3 923.2 L1243.0 944.3 L1245.1 959.8 L1246.9 962.6 L1248.6 957.0 L1250.7 947.1 L1252.5 930.3 L1253.8 916.9 L1255.2 916.9 L1255.9 923.2 L1256.8 944.3 L1257.7 965.4 L1258.4 992.1 L1260.1 992.1 L1261.3 979.4 L1262.4 975.2 L1264.1 975.2 L1264.9 979.4 L1266.2 993.5 L1268.3 1007.5 L1271.1 1008.9 L1273.9 1000.5 L1276.7 990.7 L1279.5 982.9 L1281.2 982.0 L1282.3 986.5 L1283.0 1003.3 L1286.5 1001.9 L1288.0 999.1 L1290.8 1002.6 L1293.6 1001.9 L1297.8 1005.4 L1301.3 1004.7 L1304.8 1008.9 L1318.9 1020.9 L1332.9 1033.5 L1347.0 1045.5 L1350.0 1047.1 L1570.0 1239.0 L1598.1 1264.3 L1629.3 1292.0 L1631.3 1278.4 L1632.2 1236.2 L1633.5 1180.0 M1705.9 1068.1 L1787.4 1135.9 L1788.9 1144.9 L1821.1 1171.1 L1903.6 1243.3 L1912.0 1247.0 L1980.0 1307.5 L2017.5 1342.2 L2054.9 1378.7 L2092.4 1413.3 L2129.9 1448.0 L2167.4 1479.9 L2204.8 1509.8 L2242.3 1537.0 L2279.8 1562.3 L2317.2 1583.8 L2351.0 1601.6 M1641.1 1180.0 L1641.4 1250.3 L1641.8 1302.2 L1651.5 1310.7 L1663.9 1321.2 L1666.7 1306.5 L1668.1 1264.3 L1669.8 1201.1 L1671.4 1180.0" stroke="#0f0"/>
<path d="M1639.1 734.0 L1643.1 734.0 L1643.1 760.0 L1639.1 760.0Z M1639.1 740.0 L1643.1 740.0 L1643.1 980.0 L1632.9 980.0 L1632.9 946.5 L1634.1 946.5 L1634.1 875.6 L1635.1 875.6 L1635.1 825.7 L1636.0 825.7 L1636.0 796.2 L1637.2 796.2 L1637.2 758.3 L1639.1 758.3Z M1677.1 915.9 L1681.0 915.9 L1681.0 921.3 L1682.0 921.3 L1682.0 946.5 L1684.9 946.5 L1684.9 980.0 L1674.0 980.0 L1674.0 955.0 L1677.1 955.0Z M1632.9 960.0 L1636.0 960.0 L1636.0 1200.0 L1631.1 1200.0 L1631.1 1144.1 L1632.0 1144.1 L1632.0 1042.9 L1632.9 1042.9Z M1639.1 960.0 L1643.1 960.0 L1643.1 1200.0 L1639.1 1200.0Z M1674.0 960.0 L1684.9 960.0 L1684.9 1057.0 L1689.2 1055.5 L1689.2 1016.2 L1693.6 1016.2 L1693.6 1029.6 L1697.9 1029.6 L1697.9 1051.3 L1701.4 1057.0 L1704.2 1055.5 L1705.6 1066.8 L1701.4 1076.6 L1700.0 1100.5 L1698.6 1106.1 L1697.2 1097.7 L1693.6 1100.5 L1690.8 1111.7 L1688.0 1113.2 L1687.3 1142.7 L1686.6 1165.1 L1683.8 1165.1 L1681.7 1153.9 L1680.3 1106.1 L1678.2 1100.5 L1677.5 1068.2 L1674.7 1071.0 L1674.0 1106.1 L1674.0 1176.4 L1673.3 1176.4 L1673.3 1190.4 L1671.2 1190.4 L1671.2 1200.0 L1667.0 1200.0 L1667.0 1190.4 L1669.1 1190.4 L1669.1 1176.4 L1670.0 1176.4 L1670.0 1071.0 L1671.2 1071.0 L1671.2 1052.7 L1673.3 1052.7 L1673.3 988.1 L1674.0 988.1Z" fill="#0f0" stroke="none"/>
<path d="M903.7 1000.0 L904.7 956.7 L905.7 921.6 L906.4 906.8 L907.1 906.8 L907.9 914.6 L908.9 914.6 L908.9 1000.0Z M1680.0 1217.2 L1681.0 1217.2 L1681.0 1420.0 L1677.5 1420.0 L1677.5 1283.3 L1680.0 1283.3Z M1254.1 1114.0 L1255.9 1114.0 L1255.9 1156.0 L1253.1 1156.0 L1253.1 1140.9 L1254.1 1140.9Z M1283.2 1140.1 L1284.0 1140.1 L1284.0 1156.0 L1282.1 1156.0 L1282.1 1148.8 L1283.2 1148.8Z M1253.1 1150.0 L1255.9 1150.0 L1255.9 1187.1 L1257.0 1187.1 L1257.0 1200.0 L1257.9 1200.0 L1257.9 1221.4 L1259.0 1221.4 L1259.0 1246.0 L1251.0 1246.0 L1251.0 1202.8 L1253.1 1202.8Z M1264.1 1224.2 L1264.9 1224.2 L1267.7 1233.2 L1267.7 1246.0 L1264.1 1246.0Z M1282.1 1150.0 L1284.0 1150.0 L1284.0 1180.4 L1284.9 1180.4 L1284.9 1220.3 L1286.0 1220.3 L1287.1 1227.0 L1288.0 1233.2 L1288.0 1246.0 L1281.2 1246.0 L1281.2 1187.1 L1282.1 1187.1Z M1291.0 1187.1 L1292.2 1187.1 L1292.5 1192.2 L1293.3 1200.0 L1294.4 1197.2 L1295.5 1192.2 L1296.4 1187.1 L1297.0 1187.1 L1297.0 1157.3 L1298.1 1157.3 L1298.1 1193.8 L1299.2 1198.3 L1300.6 1200.0 L1302.0 1197.2 L1302.9 1204.0 L1303.1 1204.0 L1303.1 1246.0 L1291.0 1246.0Z M1304.1 1171.1 L1305.9 1171.1 L1305.9 1173.6 L1307.9 1173.0 L1307.9 1193.0 L1309.0 1193.0 L1309.0 1209.0 L1309.9 1209.0 L1309.9 1234.0 L1313.0 1234.0 L1313.0 1246.0 L1304.1 1246.0Z" fill="#000" stroke="none"/>
<path d="M1684.9 1212.3 L1685.9 1212.3 L1685.9 1298.0 L1684.9 1298.0Z M1241.9 1128.0 L1243.0 1128.0 L1243.0 1153.6 L1241.9 1153.6Z M1303.1 1191.0 L1304.1 1191.0 L1304.1 1246.0 L1303.1 1246.0Z M1304.8 1160.1 L1305.9 1160.1 L1305.9 1171.1 L1304.8 1171.1Z" fill="#fff" stroke="none"/>
</g>
<path d="M253.7 222.0 v22 M253.7 1692.0 v-22 M327.5 222.0 v22 M327.5 1692.0 v-22 M384.7 222.0 v22 M384.7 1692.0 v-22 M431.5 222.0 v22 M431.5 1692.0 v-22 M471.0 222.0 v22 M471.0 1692.0 v-22 M505.3 222.0 v22 M505.3 1692.0 v-22 M535.5 222.0 v22 M535.5 1692.0 v-22 M562.5 222.0 v43 M562.5 1692.0 v-43 M740.3 222.0 v22 M740.3 1692.0 v-22 M844.3 222.0 v22 M844.3 1692.0 v-22 M918.0 222.0 v22 M918.0 1692.0 v-22 M975.3 222.0 v22 M975.3 1692.0 v-22 M1022.0 222.0 v22 M1022.0 1692.0 v-22 M1061.6 222.0 v22 M1061.6 1692.0 v-22 M1095.8 222.0 v22 M1095.8 1692.0 v-22 M1126.0 222.0 v22 M1126.0 1692.0 v-22 M1153.0 222.0 v43 M1153.0 1692.0 v-43 M1330.8 222.0 v22 M1330.8 1692.0 v-22 M1434.8 222.0 v22 M1434.8 1692.0 v-22 M1508.6 222.0 v22 M1508.6 1692.0 v-22 M1565.8 222.0 v22 M1565.8 1692.0 v-22 M1612.6 222.0 v22 M1612.6 1692.0 v-22 M1652.1 222.0 v22 M1652.1 1692.0 v-22 M1686.3 222.0 v22 M1686.3 1692.0 v-22 M1716.5 222.0 v22 M1716.5 1692.0 v-22 M1743.6 222.0 v43 M1743.6 1692.0 v-43 M1921.3 222.0 v22 M1921.3 1692.0 v-22 M2025.3 222.0 v22 M2025.3 1692.0 v-22 M2099.1 222.0 v22 M2099.1 1692.0 v-22 M2156.3 222.0 v22 M2156.3 1692.0 v-22 M2203.1 222.0 v22 M2203.1 1692.0 v-22 M2242.6 222.0 v22 M2242.6 1692.0 v-22 M2276.9 222.0 v22 M2276.9 1692.0 v-22 M2307.1 222.0 v22 M2307.1 1692.0 v-22 M2334.1 222.0 v43 M2334.1 1692.0 v-43 M254.0 1639.5 h21 M2353.0 1639.5 h-22 M254.0 1606.8 h21 M2353.0 1606.8 h-22 M254.0 1583.5 h21 M2353.0 1583.5 h-22 M254.0 1565.5 h21 M2353.0 1565.5 h-22 M254.0 1550.8 h21 M2353.0 1550.8 h-22 M254.0 1538.4 h21 M2353.0 1538.4 h-22 M254.0 1527.6 h21 M2353.0 1527.6 h-22 M254.0 1518.1 h21 M2353.0 1518.1 h-22 M254.0 1509.6 h42 M2353.0 1509.6 h-43 M254.0 1453.7 h21 M2353.0 1453.7 h-22 M254.0 1420.9 h21 M2353.0 1420.9 h-22 M254.0 1397.7 h21 M2353.0 1397.7 h-22 M254.0 1379.7 h21 M2353.0 1379.7 h-22 M254.0 1365.0 h21 M2353.0 1365.0 h-22 M254.0 1352.6 h21 M2353.0 1352.6 h-22 M254.0 1341.8 h21 M2353.0 1341.8 h-22 M254.0 1332.3 h21 M2353.0 1332.3 h-22 M254.0 1323.8 h42 M2353.0 1323.8 h-43 M254.0 1267.8 h21 M2353.0 1267.8 h-22 M254.0 1235.1 h21 M2353.0 1235.1 h-22 M254.0 1211.9 h21 M2353.0 1211.9 h-22 M254.0 1193.9 h21 M2353.0 1193.9 h-22 M254.0 1179.2 h21 M2353.0 1179.2 h-22 M254.0 1166.7 h21 M2353.0 1166.7 h-22 M254.0 1155.9 h21 M2353.0 1155.9 h-22 M254.0 1146.4 h21 M2353.0 1146.4 h-22 M254.0 1137.9 h42 M2353.0 1137.9 h-43 M254.0 1082.0 h21 M2353.0 1082.0 h-22 M254.0 1049.3 h21 M2353.0 1049.3 h-22 M254.0 1026.1 h21 M2353.0 1026.1 h-22 M254.0 1008.1 h21 M2353.0 1008.1 h-22 M254.0 993.3 h21 M2353.0 993.3 h-22 M254.0 980.9 h21 M2353.0 980.9 h-22 M254.0 970.1 h21 M2353.0 970.1 h-22 M254.0 960.6 h21 M2353.0 960.6 h-22 M254.0 952.1 h42 M2353.0 952.1 h-43 M254.0 896.2 h21 M2353.0 896.2 h-22 M254.0 863.4 h21 M2353.0 863.4 h-22 M254.0 840.2 h21 M2353.0 840.2 h-22 M254.0 822.2 h21 M2353.0 822.2 h-22 M254.0 807.5 h21 M2353.0 807.5 h-22 M254.0 795.1 h21 M2353.0 795.1 h-22 M254.0 784.3 h21 M2353.0 784.3 h-22 M254.0 774.8 h21 M2353.0 774.8 h-22 M254.0 766.3 h42 M2353.0 766.3 h-43 M254.0 710.3 h21 M2353.0 710.3 h-22 M254.0 677.6 h21 M2353.0 677.6 h-22 M254.0 654.4 h21 M2353.0 654.4 h-22 M254.0 636.4 h21 M2353.0 636.4 h-22 M254.0 621.7 h21 M2353.0 621.7 h-22 M254.0 609.2 h21 M2353.0 609.2 h-22 M254.0 598.5 h21 M2353.0 598.5 h-22 M254.0 589.0 h21 M2353.0 589.0 h-22 M254.0 580.4 h42 M2353.0 580.4 h-43 M254.0 524.5 h21 M2353.0 524.5 h-22 M254.0 491.8 h21 M2353.0 491.8 h-22 M254.0 468.6 h21 M2353.0 468.6 h-22 M254.0 450.6 h21 M2353.0 450.6 h-22 M254.0 435.8 h21 M2353.0 435.8 h-22 M254.0 423.4 h21 M2353.0 423.4 h-22 M254.0 412.6 h21 M2353.0 412.6 h-22 M254.0 403.1 h21 M2353.0 403.1 h-22 M254.0 394.6 h42 M2353.0 394.6 h-43 M254.0 338.7 h21 M2353.0 338.7 h-22 M254.0 306.0 h21 M2353.0 306.0 h-22 M254.0 282.7 h21 M2353.0 282.7 h-22 M254.0 264.7 h21 M2353.0 264.7 h-22 M254.0 250.0 h21 M2353.0 250.0 h-22 M254.0 237.6 h21 M2353.0 237.6 h-22 M254.0 226.8 h21 M2353.0 226.8 h-22" stroke="#000" stroke-width="4" fill="none" shape-rendering="crispEdges"/>
<path d="M252 220H2355V225H252Z M252 1690H2355V1694H252Z M252 220H256V1694H252Z M2351 220H2355V1694H2351Z" fill="#000" shape-rendering="crispEdges"/>
<rect x="1723" y="327.2" width="590.5" height="360.8" fill="#fff" stroke="#000" stroke-width="4.4" shape-rendering="crispEdges"/>
<path d="M1745 394.0 H1830" stroke="#000" stroke-width="4" shape-rendering="crispEdges"/>
<path d="M1745 507.4 H1830" stroke="#f00" stroke-width="4" shape-rendering="crispEdges"/>
<path d="M1745 620.0 H1830" stroke="#0f0" stroke-width="4" shape-rendering="crispEdges"/>
<text id="leg1" x="1869.86" y="425.60" font-size="70" textLength="400.46" lengthAdjust="spacingAndGlyphs">ρ=0.025 g/cm</text>
<text id="leg1s" x="2269.55" y="382.20" font-size="48">3</text>
<text id="leg2" x="1869.84" y="537.90" font-size="70" textLength="365.88" lengthAdjust="spacingAndGlyphs">ρ=0.25 g/cm</text>
<text id="leg2s" x="2234.15" y="494.50" font-size="48">3</text>
<text id="leg3" x="1869.83" y="651.00" font-size="70" textLength="330.39" lengthAdjust="spacingAndGlyphs">ρ=2.5 g/cm</text>
<text id="leg3s" x="2198.60" y="607.60" font-size="48">3</text>
<text id="title" x="1055.96" y="84.00" font-size="87" textLength="491.90" lengthAdjust="spacingAndGlyphs">Fe, T=500 eV</text>
<text id="sub" x="1110.28" y="180.00" font-size="58.5" textLength="385.11" lengthAdjust="spacingAndGlyphs">STA calculation</text>
<text id="xlab" x="1123.92" y="1858.40" font-size="70" textLength="360.45" lengthAdjust="spacingAndGlyphs">Energy (eV)</text>
<text id="ylab1" transform="translate(104.50 1187.09) rotate(-90)" font-size="70" textLength="357.83" lengthAdjust="spacingAndGlyphs">Opacity (cm</text>
<text id="ylab2" transform="translate(60.40 826.10) rotate(-90)" font-size="48">2</text>
<text id="ylab3" transform="translate(104.50 803.50) rotate(-90)" font-size="70" textLength="78.91" lengthAdjust="spacingAndGlyphs">/g)</text>
<text id="xt2" x="519.74" y="1787.50" font-size="72" textLength="67.09" lengthAdjust="spacingAndGlyphs">10</text>
<text id="xt2s" x="586.20" y="1746.80" font-size="48">2</text>
<text id="xt3" x="1110.77" y="1787.50" font-size="72" textLength="67.09" lengthAdjust="spacingAndGlyphs">10</text>
<text id="xt3s" x="1176.73" y="1746.80" font-size="48">3</text>
<text id="xt4" x="1700.86" y="1787.50" font-size="72" textLength="67.09" lengthAdjust="spacingAndGlyphs">10</text>
<text id="xt4s" x="1767.26" y="1746.80" font-size="48">4</text>
<text id="xt5" x="2291.88" y="1787.50" font-size="72" textLength="67.09" lengthAdjust="spacingAndGlyphs">10</text>
<text id="xt5s" x="2357.79" y="1746.80" font-size="48">5</text>
<text id="yt0" x="142.69" y="1546.20" font-size="72" textLength="67.66" lengthAdjust="spacingAndGlyphs">10</text>
<text id="yt0s" x="208.00" y="1505.10" font-size="48">0</text>
<text id="yt1" x="142.69" y="1360.37" font-size="72" textLength="67.66" lengthAdjust="spacingAndGlyphs">10</text>
<text id="yt1s" x="208.00" y="1319.27" font-size="48">1</text>
<text id="yt2" x="142.69" y="1174.54" font-size="72" textLength="67.66" lengthAdjust="spacingAndGlyphs">10</text>
<text id="yt2s" x="208.00" y="1133.44" font-size="48">2</text>
<text id="yt3" x="142.69" y="988.71" font-size="72" textLength="67.66" lengthAdjust="spacingAndGlyphs">10</text>
<text id="yt3s" x="208.00" y="947.61" font-size="48">3</text>
<text id="yt4" x="142.69" y="802.88" font-size="72" textLength="67.66" lengthAdjust="spacingAndGlyphs">10</text>
<text id="yt4s" x="208.00" y="761.78" font-size="48">4</text>
<text id="yt5" x="142.69" y="617.05" font-size="72" textLength="67.66" lengthAdjust="spacingAndGlyphs">10</text>
<text id="yt5s" x="208.00" y="575.95" font-size="48">5</text>
<text id="yt6" x="142.69" y="431.22" font-size="72" textLength="67.66" lengthAdjust="spacingAndGlyphs">10</text>
<text id="yt6s" x="208.00" y="390.12" font-size="48">6</text>
</svg></body></html>
